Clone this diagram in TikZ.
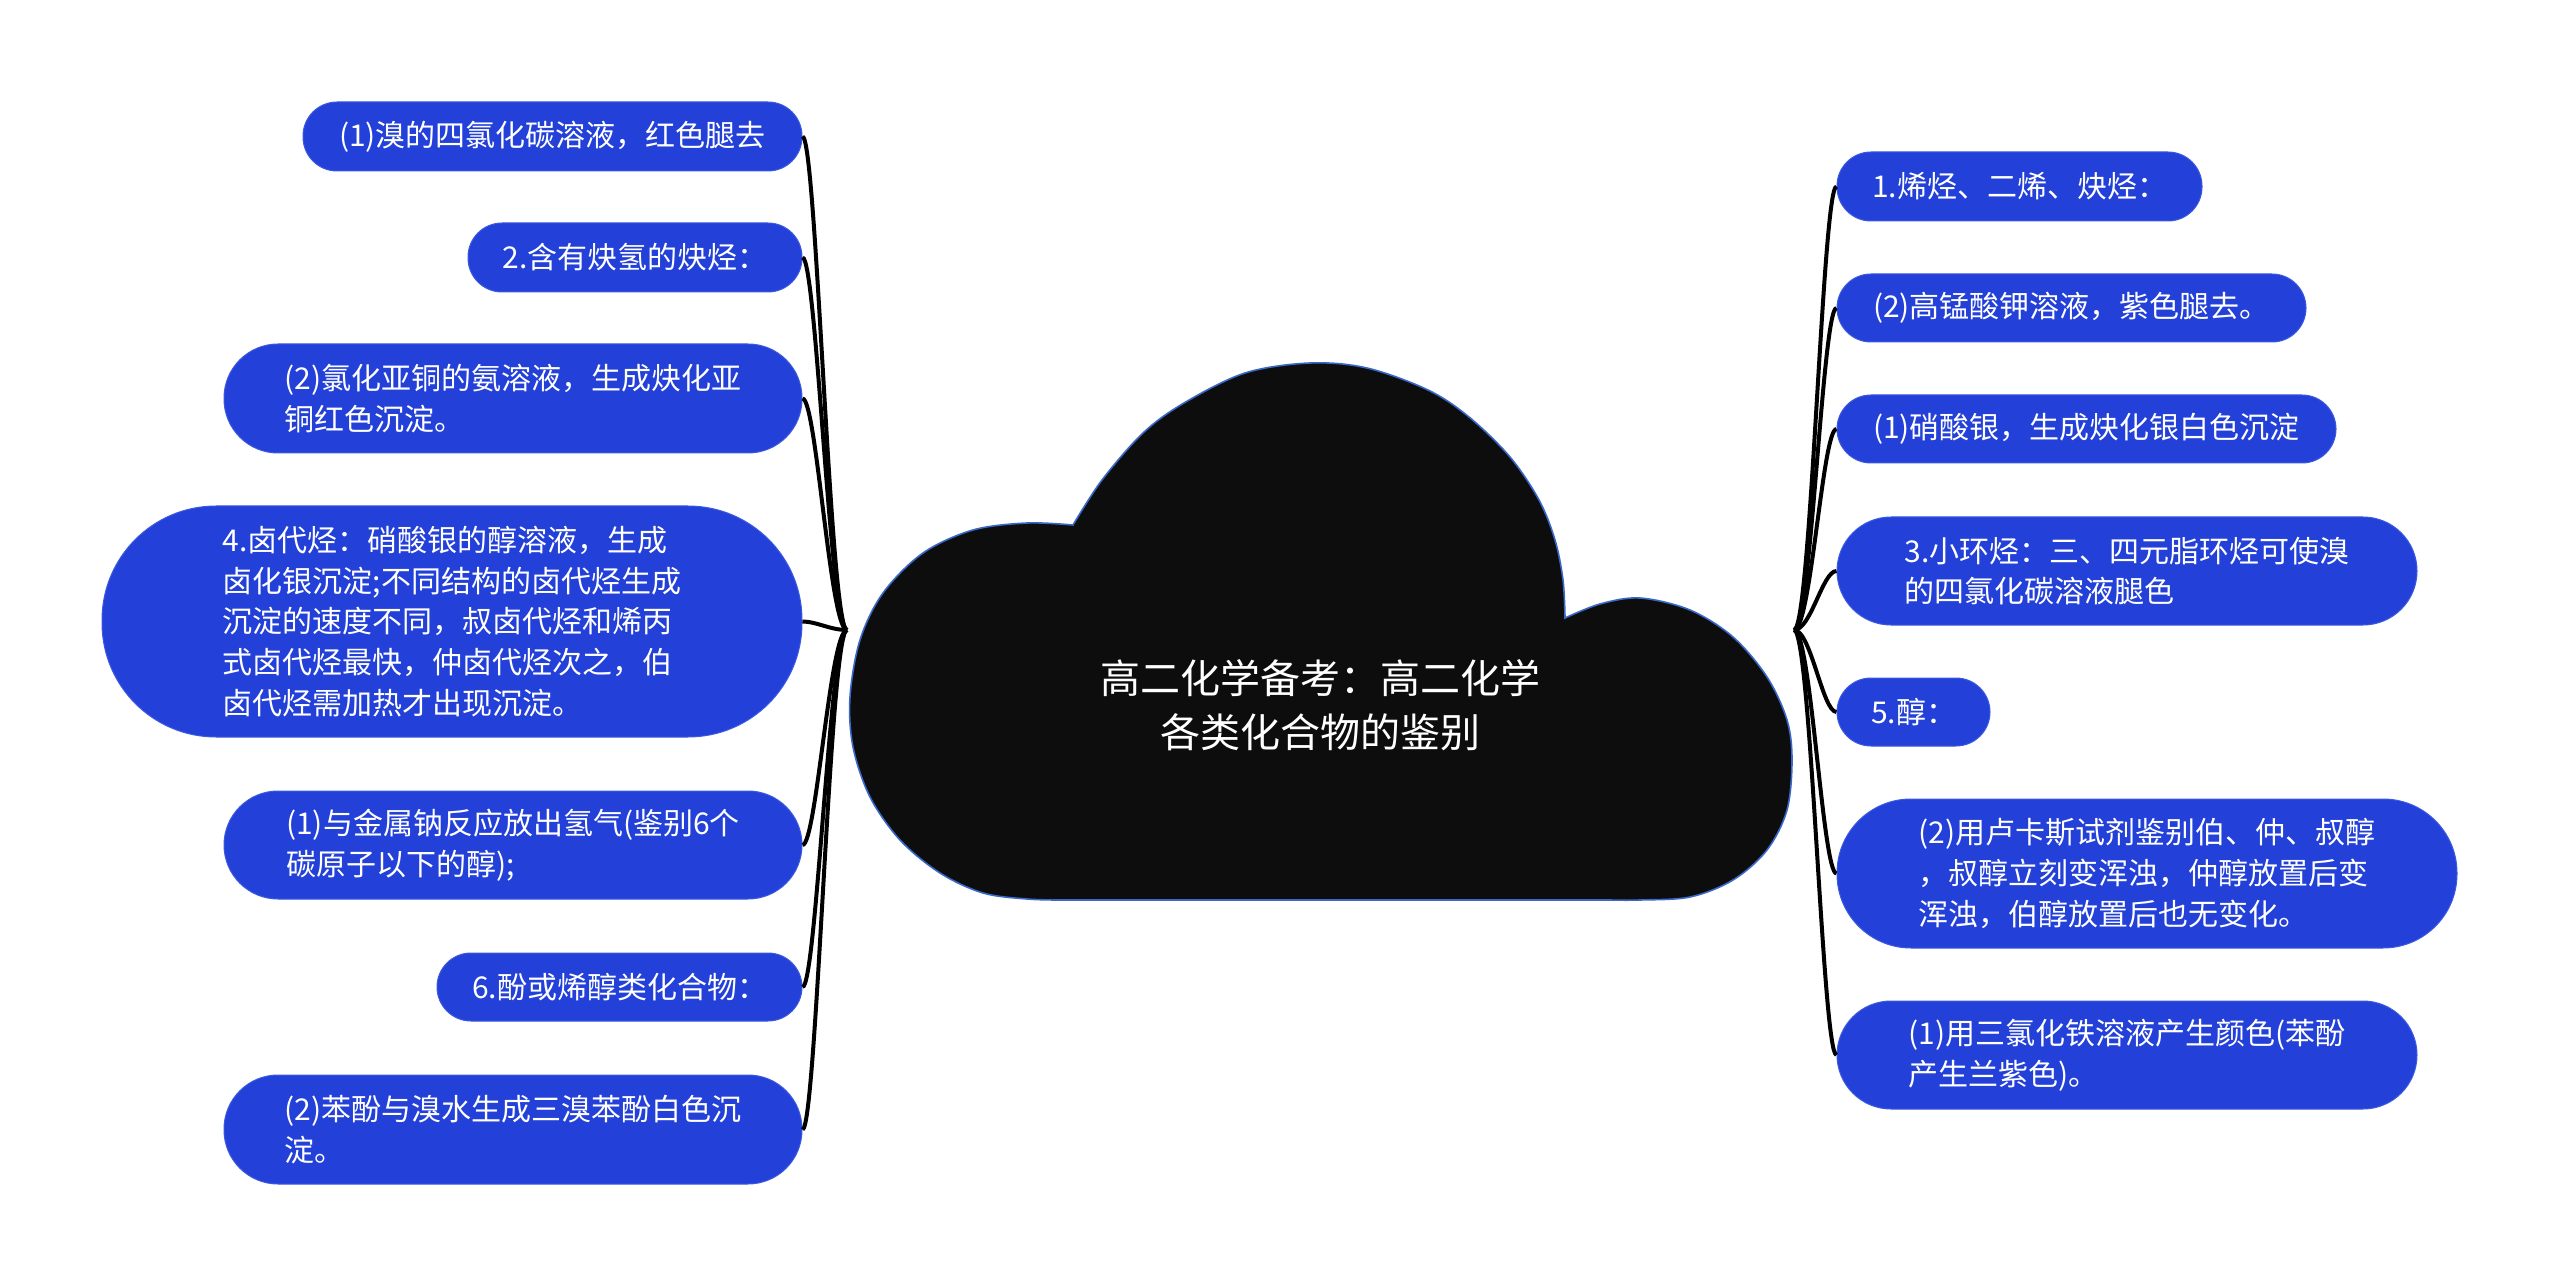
\documentclass[tikz,border=0pt]{standalone}
\usepackage{fontspec}
\usetikzlibrary{calc}
\newfontfamily\cjk{Noto Sans CJK SC}
\definecolor{boxblue}{RGB}{35,64,216}
\definecolor{boxedge}{RGB}{60,90,225}
\definecolor{cloudfill}{RGB}{13,13,13}
\definecolor{cloudedge}{RGB}{58,104,200}
\tikzset{
  box/.style={fill=boxblue, draw=boxedge, line width=0.5pt, text=white,
    font=\cjk\fontsize{15pt}{20.4pt}\selectfont, align=left, inner sep=0pt},
  link/.style={line width=2pt, black},
  title/.style={text=white, font=\cjk\fontsize{20pt}{27pt}\selectfont, align=center}
}
\begin{document}
\begin{tikzpicture}[x=0.5pt,y=-0.5pt]
\useasboundingbox (0,0) rectangle (2560,1283);

% cloud
\path[fill=cloudfill, draw=cloudedge, line width=0.8pt]
  (1073,525)
  -- plot[smooth, tension=0.55] coordinates {(1073,525) (1027,523) (973,530) (923,553) (883,593) (860,640) (850,697) (853,747) (870,797) (900,840) (940,873) (983,893) (1027,899) (1060,900)}
  -- (1610,900)
  -- plot[smooth, tension=0.55] coordinates {(1610,900) (1640,900) (1690,897) (1733,880) (1767,850) (1787,810) (1792,760) (1787,720) (1767,677) (1733,637) (1690,610) (1640,598) (1600,604) (1565,618)}
  -- plot[smooth, tension=0.55] coordinates {(1565,618) (1563,580) (1555,540) (1539,500) (1510,457) (1469,417) (1428,390) (1367,368) (1310,363) (1245,373) (1184,403) (1143,433) (1102,480) (1073,525)}
  -- cycle;
\node[title] (T) at (1320,705) {高二化学备考：高二化学\\各类化合物的鉴别};

\coordinate (JL) at (847,630);
\coordinate (JR) at (1794,630);

% left nodes
\node[box, minimum width=249.5pt, minimum height=34.5pt, rounded corners=17pt] (L1) at (552.5,136.5) {(1)溴的四氯化碳溶液，红色腿去};
\node[box, minimum width=167pt, minimum height=34.5pt, rounded corners=17pt] (L2) at (635,257.5) {2.含有炔氢的炔烃：};
\node[box, minimum width=289pt, minimum height=54.5pt, rounded corners=27pt] (L3) at (513,398.5) {(2)氯化亚铜的氨溶液，生成炔化亚\\铜红色沉淀。};
\node[box, minimum width=350pt, minimum height=115.5pt, rounded corners=57pt] (L4) at (452,621.5) {4.卤代烃：硝酸银的醇溶液，生成\\卤化银沉淀;不同结构的卤代烃生成\\沉淀的速度不同，叔卤代烃和烯丙\\式卤代烃最快，仲卤代烃次之，伯\\卤代烃需加热才出现沉淀。};
\node[box, minimum width=289pt, minimum height=54pt, rounded corners=27pt] (L5) at (513,845) {(1)与金属钠反应放出氢气(鉴别6个\\碳原子以下的醇);};
\node[box, minimum width=182.5pt, minimum height=34pt, rounded corners=17pt] (L6) at (619.5,987) {6.酚或烯醇类化合物：};
\node[box, minimum width=289pt, minimum height=54.5pt, rounded corners=27pt] (L7) at (513,1129.5) {(2)苯酚与溴水生成三溴苯酚白色沉\\淀。};

% right nodes
\node[box, minimum width=182.5pt, minimum height=34.5pt, rounded corners=17pt] (R1) at (2019.5,186.5) {1.烯烃、二烯、炔烃：};
\node[box, minimum width=234.5pt, minimum height=34pt, rounded corners=17pt] (R2) at (2071.5,308) {(2)高锰酸钾溶液，紫色腿去。};
\node[box, minimum width=249.5pt, minimum height=34pt, rounded corners=17pt] (R3) at (2086.5,429) {(1)硝酸银，生成炔化银白色沉淀};
\node[box, minimum width=290pt, minimum height=54pt, rounded corners=27pt] (R4) at (2127,571) {3.小环烃：三、四元脂环烃可使溴\\的四氯化碳溶液腿色};
\node[box, minimum width=76.5pt, minimum height=34pt, rounded corners=17pt] (R5) at (1913.5,712) {5.醇：};
\node[box, minimum width=310pt, minimum height=74.5pt, rounded corners=37pt] (R6) at (2147,873.5) {(2)用卢卡斯试剂鉴别伯、仲、叔醇\\，叔醇立刻变浑浊，仲醇放置后变\\浑浊，伯醇放置后也无变化。};
\node[box, minimum width=290pt, minimum height=54pt, rounded corners=27pt] (R7) at (2127,1055) {(1)用三氯化铁溶液产生颜色(苯酚\\产生兰紫色)。};

% connectors
\foreach \n in {L1,L2,L3,L4,L5,L6,L7}
  \draw[link] (\n.east) .. controls ($(\n.east)+(14,0)$) and ($(JL)+(-17,0)$) .. (JL);
\foreach \n in {R1,R2,R3,R4,R5,R6,R7}
  \draw[link] (JR) .. controls ($(JR)+(17,0)$) and ($(\n.west)+(-14,0)$) .. (\n.west);
\end{tikzpicture}
\end{document}
